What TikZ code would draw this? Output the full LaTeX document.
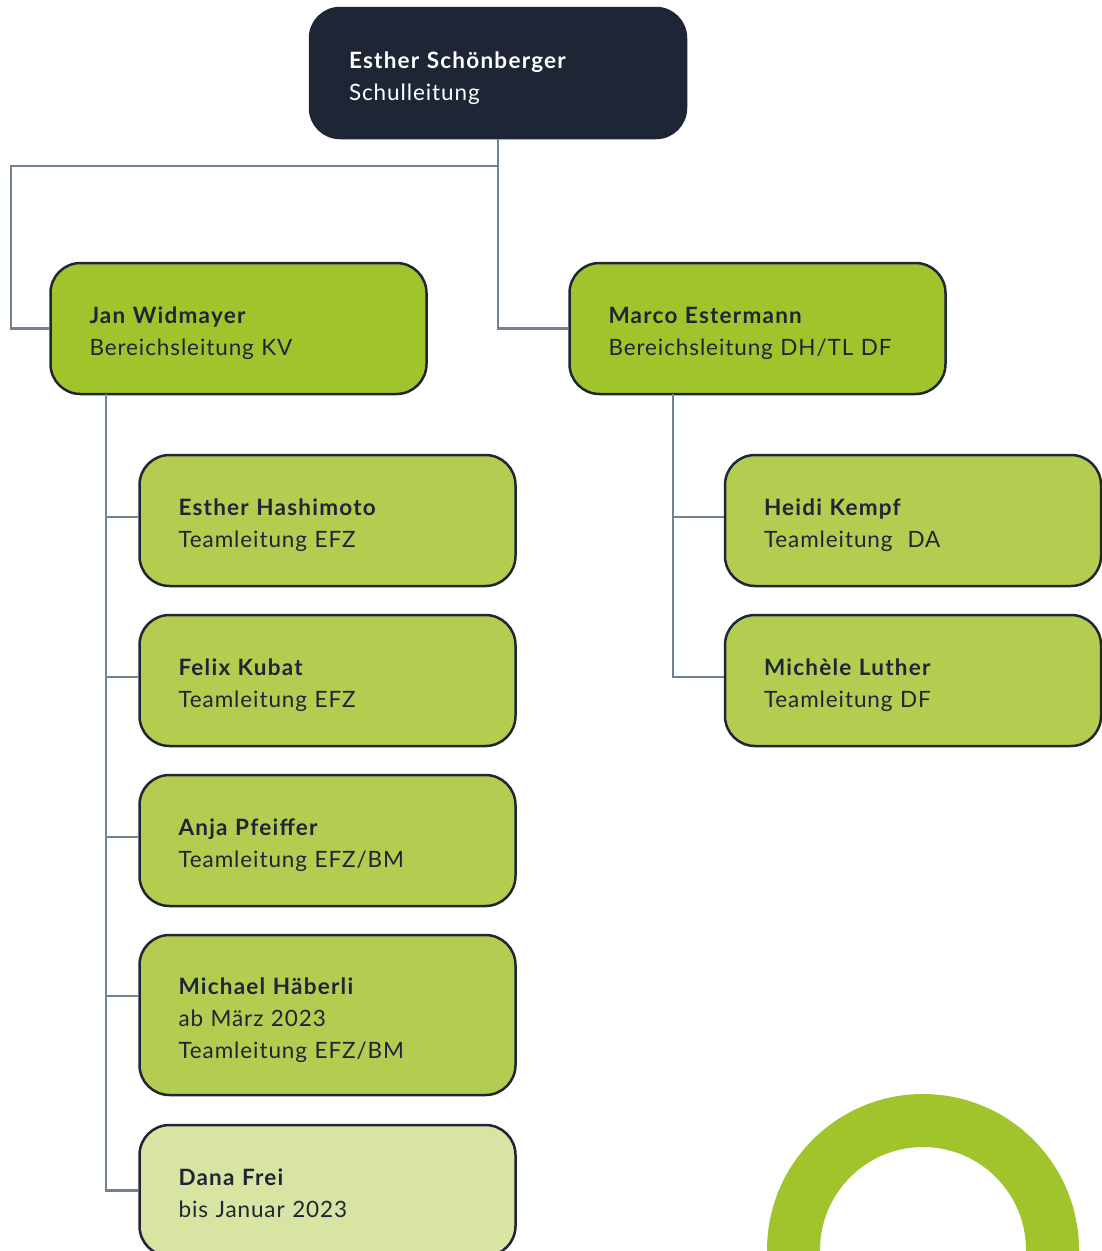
\documentclass[tikz,border=0pt]{standalone}
\usepackage{fontspec}
\setmainfont{Lato}[LetterSpace=4,BoldFeatures={LetterSpace=5.5}]
\definecolor{navy}{HTML}{1E2636}
\definecolor{linec}{HTML}{718393}
\definecolor{gA}{HTML}{A1C42D}
\definecolor{gB}{HTML}{B3CD51}
\definecolor{gC}{HTML}{D8E4A2}
\begin{document}
\begin{tikzpicture}[x=1pt,y=-1pt,
  box/.style={draw=navy,line width=2.5pt,rounded corners=30pt,inner sep=0pt,
    minimum width=376pt,minimum height=131pt,text width=298pt,align=left,
    text=navy,font=\fontsize{22.5}{32}\selectfont,
    execute at begin node={\rule{0pt}{29pt}},
    execute at end node={\rule[-7pt]{0pt}{7pt}}},
  conn/.style={draw=linec,line width=2.5pt}]
\useasboundingbox (0,0) rectangle (1102,1251);
% ring
\fill[gA,even odd rule] (923,1250) circle (156pt) (923,1250) circle (103pt);
\coordinate (elbow) at (11,166);
\coordinate (trunkL) at (106,394);
\coordinate (trunkR) at (673,394);
% boxes
\node[box,fill=navy,text=white,minimum height=130pt] (top) at (498,73) {\textbf{Esther Schönberger}\\Schulleitung};
\node[box,fill=gA] (jan) at (238.5,328.5) {\textbf{Jan Widmayer}\\Bereichsleitung KV};
\node[box,fill=gA] (marco) at (757.5,328.5) {\textbf{Marco Estermann}\\Bereichsleitung DH/TL DF};
\node[box,fill=gB] (hash) at (327.5,520.5) {\textbf{Esther Hashimoto}\\Teamleitung EFZ};
\node[box,fill=gB] (kubat) at (327.5,680.5) {\textbf{Felix Kubat}\\Teamleitung EFZ};
\node[box,fill=gB] (pfeif) at (327.5,840.5) {\textbf{Anja Pfeiffer}\\Teamleitung EFZ/BM};
\node[box,fill=gB,minimum height=160pt] (haeb) at (327.5,1015) {\textbf{Michael Häberli}\\ab März 2023\\Teamleitung EFZ/BM};
\node[box,fill=gC] (dana) at (327.5,1190.5) {\textbf{Dana Frei}\\bis Januar 2023};
\node[box,fill=gB] (heidi) at (913,520.5) {\textbf{Heidi Kempf}\\Teamleitung\ \ DA};
\node[box,fill=gB] (luther) at (913,680.5) {\textbf{Michèle Luther}\\Teamleitung DF};
% connectors
\draw[conn] (top.south) |- (marco.west);
\draw[conn] (top.south |- elbow) -- (elbow) |- (jan.west);
\draw[conn] (trunkL) |- (dana.west);
\draw[conn] (trunkL |- 0,517) -- ([yshift=3.5pt]hash.west);
\draw[conn] (trunkL |- 0,677) -- ([yshift=3.5pt]kubat.west);
\draw[conn] (trunkL |- 0,837) -- ([yshift=3.5pt]pfeif.west);
\draw[conn] (trunkL |- 0,996) -- ([yshift=19pt]haeb.west);
\draw[conn] (trunkR) |- ([yshift=3.5pt]luther.west);
\draw[conn] (trunkR |- 0,517) -- ([yshift=3.5pt]heidi.west);
\end{tikzpicture}
\end{document}
